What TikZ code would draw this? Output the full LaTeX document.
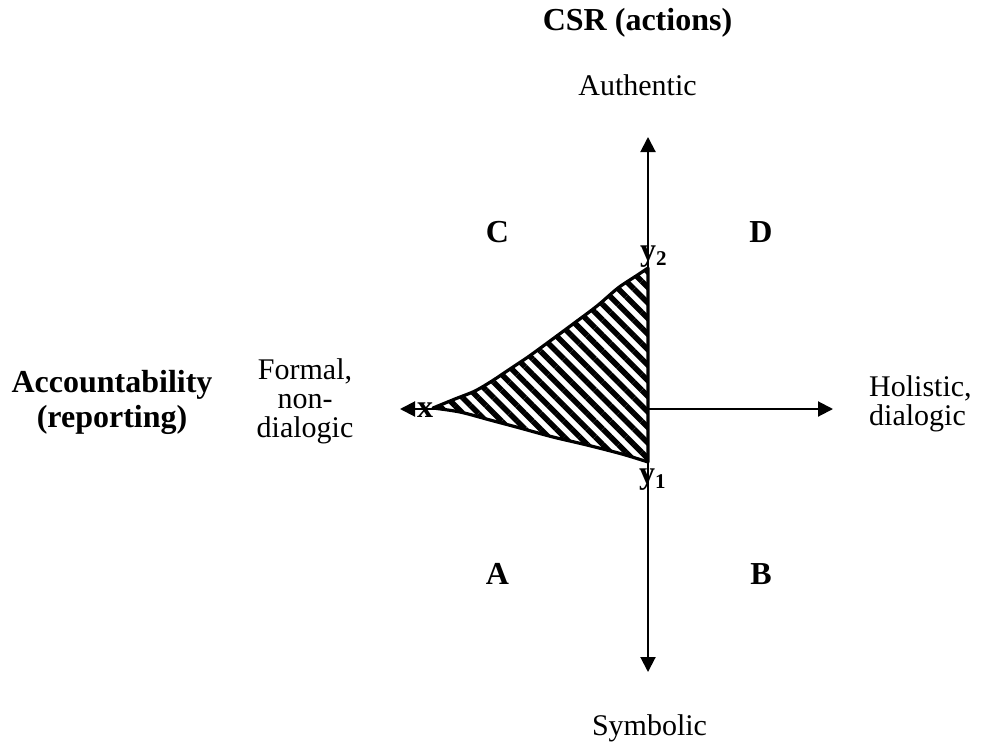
\documentclass[tikz,border=0pt]{standalone}
\usepackage{fontspec}
\setmainfont{Liberation Serif}
\usetikzlibrary{arrows.meta,patterns.meta}
\begin{document}
\begin{tikzpicture}[x=1pt,y=-1pt,
  reg/.style={font=\fontsize{30}{29}\selectfont, inner sep=0pt},
  bld/.style={font=\fontsize{32}{35}\selectfont\bfseries, inner sep=0pt},
  axisline/.style={line width=2pt},
  tip/.style={-{Triangle[width=15pt,length=15pt]}},
  region/.style={line width=3.2pt, line join=round,
    preaction={fill=white},
    preaction={pattern={Lines[angle=-45,distance=11pt,line width=5.5pt]}, pattern color=black}},
  ]
\useasboundingbox (0,0) rectangle (981,744);
% axis end points
\coordinate (O) at (648,409);
\coordinate (T) at (648,137);
\coordinate (B) at (648,672);
\coordinate (R) at (833,409);
\coordinate (L) at (400,409);
\draw[axisline,tip] (O) -- (T);
\draw[axisline,tip] (O) -- (B);
\draw[axisline,tip] (O) -- (R);
\draw[axisline,tip] (O) -- (L);
% hatched region
\draw[region]
  plot[smooth] coordinates {(433,408) (455,399) (475,391) (492,381) (510,369) (528,357) (550,341) (573,324) (597,306) (618,288) (636,276) (648,268)}
  -- plot[smooth] coordinates {(648,462) (622,454) (587,445) (553,437) (520,428) (490,420) (460,412) (433,408)}
  -- cycle;
% labels
\node[bld, anchor=base] (csr) at (637.5,30) {CSR (actions)};
\node[reg, anchor=base] (auth) at (637.5,95) {Authentic};
\node[reg, anchor=base] (symb) at (649.5,735) {Symbolic};
\node[bld, anchor=base, align=center] (acc) at (112,427) {Accountability\\(reporting)};
\node[reg, anchor=base, align=center] (formal) at (305,437) {Formal,\\non-\\dialogic};
\node[reg, anchor=base west, align=left] (holi) at (869,425) {Holistic,\\dialogic};
\node[bld, anchor=base] (qC) at (497.5,242) {C};
\node[bld, anchor=base] (qD) at (761,242) {D};
\node[bld, anchor=base] (qA) at (497.5,584) {A};
\node[bld, anchor=base] (qB) at (761,584) {B};
\node[bld, anchor=base west] (xl) at (417,417) {x};
\node[bld, anchor=base west] (y2) at (640,260) {y\raisebox{-5pt}{\fontsize{21}{21}\selectfont 2}};
\node[bld, anchor=base west] (y1) at (639,483) {y\raisebox{-5pt}{\fontsize{21}{21}\selectfont 1}};
\end{tikzpicture}
\end{document}
